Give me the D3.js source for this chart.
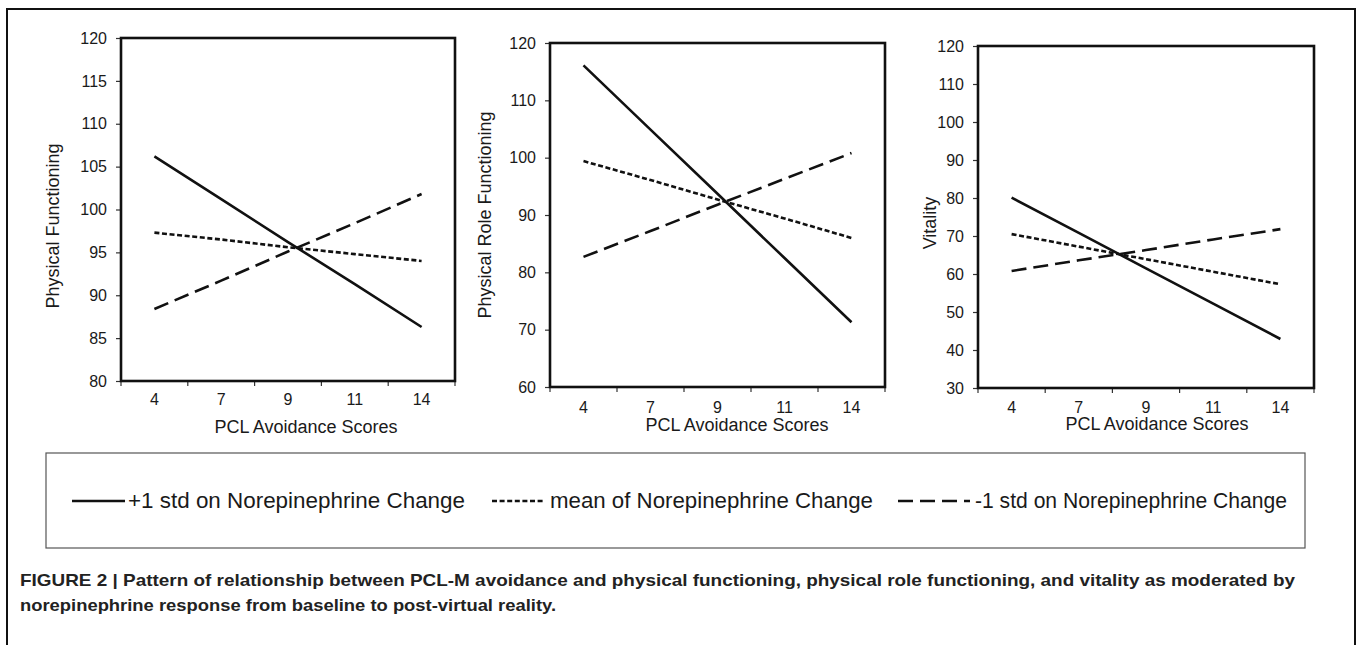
<!DOCTYPE html>
<html>
<head>
<meta charset="utf-8">
<script src="https://cdn.jsdelivr.net/npm/d3@7"></script>
<style>
  html, body { margin: 0; padding: 0; background: #fff; }
  svg { display: block; }
  text { font-family: "Liberation Sans", Arial, sans-serif; fill: #1a1a1a; }
</style>
</head>
<body>
<svg id="chart" width="1360" height="645"></svg>
<script>
// ---------- data ----------
const categories = ["4", "7", "9", "11", "14"];
const seriesNames = ["+1 std on Norepinephrine Change", "mean of Norepinephrine Change", "-1 std on Norepinephrine Change"];
const xTitle = "PCL Avoidance Scores";

const pfPlus1  = [106.2, 101.2, 96.2, 91.3, 86.3];
const pfMean   = [97.3, 96.5, 95.6, 94.8, 94.0];
const pfMinus1 = [88.4, 91.7, 95.1, 98.4, 101.8];
const pfTicks  = [80, 85, 90, 95, 100, 105, 110, 115, 120];

const prfPlus1  = [116.1, 104.9, 93.7, 82.5, 71.3];
const prfMean   = [99.4, 96.1, 92.7, 89.4, 86.0];
const prfMinus1 = [82.7, 87.2, 91.8, 96.3, 100.8];
const prfTicks  = [60, 70, 80, 90, 100, 110, 120];

const vitPlus1  = [80.1, 70.8, 61.5, 52.2, 42.9];
const vitMean   = [70.5, 67.2, 63.9, 60.6, 57.3];
const vitMinus1 = [60.8, 63.6, 66.3, 69.1, 71.8];
const vitTicks  = [30, 40, 50, 60, 70, 80, 90, 100, 110, 120];

const captionLines = [
  "FIGURE 2 | Pattern of relationship between PCL-M avoidance and physical functioning, physical role functioning, and vitality as moderated by",
  "norepinephrine response from baseline to post-virtual reality."
];

// ---------- layout ----------
const panels = [
  { title: "Physical Functioning", series: [pfPlus1, pfMean, pfMinus1], ticks: pfTicks,
    box: { l: 121, r: 455, t: 38, b: 381 }, yTitle: { x: 53, y: 226 }, xT: { x: 306, y: 433 }, tickBase: 405 },
  { title: "Physical Role Functioning", series: [prfPlus1, prfMean, prfMinus1], ticks: prfTicks,
    box: { l: 550, r: 885, t: 43, b: 387 }, yTitle: { x: 485, y: 215 }, xT: { x: 737, y: 431 }, tickBase: 413 },
  { title: "Vitality", series: [vitPlus1, vitMean, vitMinus1], ticks: vitTicks,
    box: { l: 978, r: 1314, t: 46, b: 388 }, yTitle: { x: 930, y: 223 }, xT: { x: 1157, y: 430 }, tickBase: 413 }
];
const dashes = [null, "5,2.6", "15,7"];

const svg = d3.select("#chart");

// outer figure frame (bottom edge outside the picture)
svg.append("path")
  .attr("d", "M7,650 L7,9 L1355,9 L1355,650")
  .attr("fill", "none").attr("stroke", "#111").attr("stroke-width", 2);

panels.forEach(p => {
  const g = svg.append("g");
  const x = d3.scaleBand().domain(categories).range([p.box.l, p.box.r]).padding(0);
  const y = d3.scaleLinear().domain([d3.min(p.ticks), d3.max(p.ticks)]).range([p.box.b, p.box.t]);

  // y axis
  const ya = g.append("g").attr("transform", `translate(${p.box.l},0)`)
    .call(d3.axisLeft(y).tickValues(p.ticks).tickSize(5).tickPadding(9));
  ya.select(".domain").remove();
  ya.selectAll(".tick line").attr("stroke", "#333").attr("stroke-width", 1.2);
  ya.selectAll(".tick text").attr("font-size", "16px").attr("fill", "#1a1a1a")
    .attr("font-family", "Liberation Sans, Arial, sans-serif");

  // x tick marks at category boundaries
  const bounds = d3.range(categories.length + 1).map(i => x.range()[0] + i * x.step());
  g.selectAll(".xtick").data(bounds).join("line")
    .attr("x1", d => d).attr("x2", d => d)
    .attr("y1", p.box.b).attr("y2", p.box.b + 5)
    .attr("stroke", "#333").attr("stroke-width", 1.2);

  // x labels
  g.selectAll(".xlab").data(categories).join("text")
    .attr("x", d => x(d) + x.bandwidth() / 2)
    .attr("y", p.tickBase)
    .attr("text-anchor", "middle")
    .attr("font-size", "16px")
    .text(d => d);

  // plot frame
  g.append("rect")
    .attr("x", p.box.l).attr("y", p.box.t)
    .attr("width", p.box.r - p.box.l).attr("height", p.box.b - p.box.t)
    .attr("fill", "none").attr("stroke", "#111").attr("stroke-width", 2.6);

  // lines
  const line = d3.line()
    .x((d, i) => x(categories[i]) + x.bandwidth() / 2)
    .y(d => y(d));
  p.series.forEach((s, k) => {
    g.append("path").datum(s)
      .attr("d", line)
      .attr("fill", "none")
      .attr("stroke", "#111")
      .attr("stroke-width", 2.6)
      .attr("stroke-dasharray", dashes[k]);
  });

  // titles
  g.append("text")
    .attr("transform", `translate(${p.yTitle.x},${p.yTitle.y}) rotate(-90)`)
    .attr("dy", "0.35em")
    .attr("text-anchor", "middle")
    .attr("font-size", "18px")
    .text(p.title);
  g.append("text")
    .attr("x", p.xT.x).attr("y", p.xT.y)
    .attr("text-anchor", "middle")
    .attr("font-size", "18px")
    .text(xTitle);
});

// ---------- legend ----------
const lg = svg.append("g");
lg.append("rect").attr("x", 46).attr("y", 453).attr("width", 1259).attr("height", 95)
  .attr("fill", "none").attr("stroke", "#555").attr("stroke-width", 1.2);
const legendItems = [
  { x1: 72, x2: 125, tx: 128, len: 337 },
  { x1: 492, x2: 543, tx: 550, len: 323 },
  { x1: 898, x2: 970, tx: 975, len: 312 }
];
legendItems.forEach((it, k) => {
  lg.append("line").attr("x1", it.x1).attr("x2", it.x2).attr("y1", 501).attr("y2", 501)
    .attr("stroke", "#111").attr("stroke-width", 2.6).attr("stroke-dasharray", dashes[k]);
  lg.append("text").attr("x", it.tx).attr("y", 508).attr("font-size", "22px")
    .attr("textLength", it.len).attr("lengthAdjust", "spacingAndGlyphs")
    .text(seriesNames[k]);
});

// ---------- caption ----------
const capLens = [1275, 536];
captionLines.forEach((c, i) => {
  svg.append("text")
    .attr("x", 20).attr("y", 586 + i * 25)
    .attr("font-size", "17px")
    .attr("font-weight", "bold")
    .attr("font-family", "'Liberation Sans Narrow', 'Arial Narrow', 'Liberation Sans', Arial, sans-serif")
    .attr("textLength", capLens[i])
    .attr("lengthAdjust", "spacingAndGlyphs")
    .style("fill", "#222")
    .text(c);
});
</script>
</body>
</html>
